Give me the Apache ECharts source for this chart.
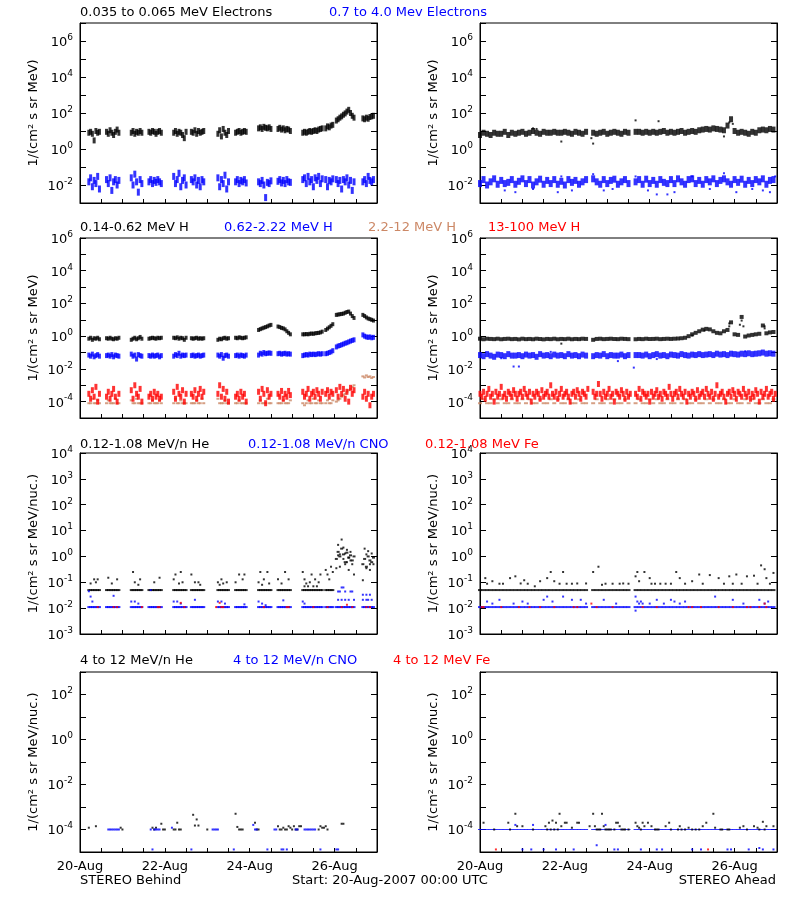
<!DOCTYPE html>
<html><head><meta charset="utf-8">
<script src="https://cdn.jsdelivr.net/npm/echarts@6/dist/echarts.min.js"></script>
<style>html,body{margin:0;padding:0;background:#fff}#c{width:800px;height:900px}</style>
</head><body><div id="c"></div>
<script>
// ---------- tick labels / categories ----------
const dayLabels = ['20-Aug','21-Aug','22-Aug','23-Aug','24-Aug','25-Aug','26-Aug','27-Aug'];
// data blocks: start hour (from 20-Aug-2007 00:00 UTC) of each telemetry block
const bhdStart = [5,15,29,39,53,63,78,88,101,112,126,139,145,160]; // STEREO Behind, hourly samples
const ahdStart = [0,64,88];                                          // STEREO Ahead blocks

// ---------- Row 1: electrons ----------
const eLoB = [[8,9,7,3,10,8,9],[9,7,11,8,6,9,12,8],[8,10,7,9,8,10,8],[9,8,10,9,7,9,10,8],[8,10,7,9,8,6,4,9],[9,8,11,7,10,8,9,10],[7,11,5,13,8,6,10],[8,9,10,8,9,10,9],[14,16,13,17,15,14,16,13],[13,15,12,14,11,13,12,10],[8,9,8,9,10,9,10,11,10,12,13,14],[14,18,16,20,22],[38,45,55,65,80,95,120,150,100,70,55],[50,45,55,48,60,65,70]];
const eHiB = [[0.015,0.025,0.008,0.018,0.012,0.03,0.006],[0.02,0.012,0.025,0.005,0.015,0.02,0.01,0.018],[0.025,0.01,0.04,0.015,0.004,0.02,0.012],[0.015,0.02,0.012,0.018,0.014,0.02,0.015,0.012],[0.03,0.012,0.02,0.045,0.008,0.018,0.025,0.01],[0.02,0.015,0.025,0.01,0.018,0.008,0.02,0.015],[0.025,0.008,0.02,0.012,0.035,0.006,0.015],[0.015,0.02,0.012,0.018,0.015,0.02,0.013],[0.015,0.012,0.018,0.01,0.002,0.014,0.012,0.017],[0.016,0.02,0.013,0.018,0.012,0.02,0.015,0.014],[0.02,0.025,0.012,0.03,0.015,0.02,0.008,0.025,0.018,0.03,0.012,0.022],[0.02,0.008,0.018,0.015,0.022],[0.02,0.012,0.018,0.006,0.02,0.015,0.025,0.01,0.018,0.005,0.015],[0.015,0.02,0.012,0.03,0.018,0.015,0.02]];
// Ahead: 2-hour samples
const eLoA = [[6,8,7,6,8,7,7,9,6,8,7,8,9,7,8,10,8,7,9,8,8,9,8,8,9,8,7,9,8,7,9],[8,7,8,9,7,8,9,8,7,9,8],[9,9,8,9,8,9,8,9,10,8,9,8,9,10,8,9,10,9,11,12,13,12,14,13,12,11,20,45,10,8,9,8,7,9,8,11,12,11,13,12]];
const eLoAx = [[30,14],[32,13],[46,2.6],[63,4],[64,2],[88,39],[101,35],[138,5],[141,30],[143,25]];
const eHiA = [[0.012,0.02,0.01,0.015,0.022,0.011,0.018,0.012,0.014,0.02,0.011,0.016,0.022,0.012,0.02,0.01,0.015,0.021,0.011,0.018,0.012,0.02,0.011,0.016,0.01,0.02,0.014,0.018,0.011,0.015,0.02],[0.022,0.015,0.011,0.02,0.012,0.018,0.021,0.011,0.015,0.02,0.012],[0.015,0.02,0.011,0.021,0.012,0.018,0.011,0.02,0.014,0.012,0.02,0.012,0.022,0.015,0.011,0.02,0.022,0.012,0.018,0.011,0.02,0.015,0.022,0.012,0.018,0.022,0.015,0.011,0.02,0.014,0.021,0.011,0.018,0.012,0.02,0.015,0.022,0.011,0.018,0.02]];
const eHiAx = [[14,0.005],[20,0.004],[30,0.006],[44,0.004],[46,0.03],[52,0.005],[64,0.04],[70,0.005],[75,0.006],[88,0.03],[95,0.005],[100,0.003],[106,0.003],[110,0.004],[120,0.03],[130,0.006],[138,0.045],[145,0.004],[154,0.006],[160,0.005],[164,0.004],[167,0.03]];

// ---------- Row 2: protons ----------
const pLoB = [[0.7,0.8,0.6,0.75,0.7,0.8,0.65],[0.75,0.7,0.8,0.7,0.65,0.75,0.7,0.8],[0.6,0.7,0.8,0.65,0.75,0.9,0.7],[0.7,0.75,0.8,0.75,0.7,0.8,0.75,0.8],[0.8,0.75,0.85,0.7,0.8,0.75,0.6,0.8],[0.75,0.7,0.75,0.8,0.7,0.75,0.7,0.75],[0.6,0.7,0.65,0.75,0.8,0.7,0.75],[0.8,0.75,0.85,0.8,0.75,0.8,0.85],[2.4,2.7,3.0,3.3,3.6,4.0,4.5,4.9],[3.9,3.6,3.2,3.0,2.6,2.0,1.6,1.3],[1.3,1.3,1.35,1.3,1.4,1.45,1.4,1.5,1.55,1.6,1.7,1.9],[2.4,2.9,3.5,4.3,5.4],[20,21,22,23,24,27,30,32,24,17,13],[20,17,14,12,11,10,9]];
const pHiB = [[0.07,0.06,0.08,0.055,0.065,0.075,0.06],[0.065,0.07,0.06,0.075,0.055,0.07,0.065,0.06],[0.08,0.06,0.07,0.04,0.075,0.065,0.06],[0.065,0.06,0.07,0.06,0.065,0.07,0.055,0.065],[0.06,0.075,0.065,0.09,0.06,0.07,0.065,0.07],[0.065,0.07,0.06,0.065,0.07,0.06,0.065,0.07],[0.07,0.06,0.075,0.045,0.065,0.07,0.06],[0.065,0.07,0.06,0.07,0.065,0.06,0.07],[0.07,0.09,0.08,0.1,0.085,0.09,0.095,0.09],[0.085,0.09,0.08,0.085,0.09,0.08,0.085,0.08],[0.065,0.07,0.075,0.07,0.08,0.075,0.08,0.075,0.08,0.085,0.08,0.085],[0.085,0.09,0.1,0.11,0.13],[0.22,0.25,0.27,0.3,0.33,0.37,0.4,0.45,0.5,0.55,0.6],[1.2,1.0,0.9,0.85,0.9,0.8,0.85]];
const pMidB = [[8e-5,8e-5,1.5e-4,8e-5,8e-5,1.2e-4,8e-5],[8e-5,1.2e-4,8e-5,8e-5,8e-5,1.5e-4,8e-5,8e-5],[1.2e-4,8e-5,8e-5,1.5e-4,8e-5,8e-5,8e-5],[8e-5,8e-5,1.2e-4,8e-5,8e-5,8e-5,1.2e-4,8e-5],[8e-5,1.5e-4,8e-5,8e-5,1.2e-4,8e-5,8e-5,8e-5],[8e-5,8e-5,8e-5,1.2e-4,8e-5,8e-5,1.5e-4,8e-5],[1.5e-4,8e-5,8e-5,8e-5,1.2e-4,8e-5,8e-5],[8e-5,8e-5,1.2e-4,8e-5,8e-5,8e-5,8e-5],[8e-5,1.2e-4,8e-5,8e-5,8e-5,1.5e-4,8e-5,8e-5],[8e-5,8e-5,8e-5,1.2e-4,8e-5,8e-5,8e-5,1.2e-4],[8e-5,6e-5,8e-5,1.2e-4,8e-5,8e-5,1.5e-4,8e-5,8e-5,1.2e-4,8e-5,8e-5],[8e-5,1.2e-4,8e-5,8e-5,1.2e-4],[1e-4,1.2e-4,1.5e-4,2e-4,2.5e-4,3e-4,4e-4,5e-4,6e-4,8e-4,1e-3],[3.5e-3,3e-3,4e-3,3.2e-3,3.5e-3,2.8e-3,3.2e-3]];
const pTopB = [[3e-4,1.5e-4,5e-4,2e-4,8e-4,1e-4,3e-4],[2e-4,4e-4,1.5e-4,3e-4,6e-4,2e-4,1e-4,3e-4],[5e-4,1.5e-4,1e-3,3e-4,2e-4,6e-4,1e-4],[2e-4,3e-4,1.5e-4,4e-4,2e-4,3e-4,1.5e-4,2e-4],[4e-4,1.5e-4,8e-4,3e-4,2e-4,5e-4,1e-4,3e-4],[3e-4,2e-4,5e-4,1.5e-4,3e-4,6e-4,2e-4,4e-4],[3e-4,1e-3,2e-4,6e-4,1.5e-4,4e-4,1e-4],[2e-4,3e-4,1.5e-4,4e-4,2e-4,3e-4,1e-4],[4e-4,1.5e-4,6e-4,3e-4,8e-5,5e-4,2e-4,3e-4],[3e-4,2e-4,4.5e-4,1.5e-4,3e-4,2e-4,4.5e-4,2.5e-4],[4e-4,2e-4,3e-4,6e-4,1.5e-4,3e-4,4e-4,2e-4,5e-4,3e-4,1.5e-4,4e-4],[3e-4,5e-4,2e-4,4e-4,3e-4],[5e-4,2e-4,8e-4,3e-4,6e-4,1.5e-4,4e-4,1e-4,7e-4,3e-4,5e-4],[2e-4,4e-4,1.5e-4,3e-4,6e-5,2e-4,3e-4]];
const pLoA = [[0.7,0.65,0.7,0.68,0.66,0.7,0.65,0.68,0.7,0.66,0.68,0.64,0.7,0.66,0.68,0.65,0.7,0.67,0.64,0.68,0.66,0.7,0.65,0.68,0.66,0.7,0.65,0.68,0.66,0.7,0.68],[0.6,0.68,0.7,0.66,0.68,0.7,0.67,0.66,0.7,0.68,0.66],[0.65,0.68,0.66,0.7,0.67,0.68,0.7,0.66,0.68,0.7,0.68,0.7,0.72,0.75,0.8,1.0,1.3,1.6,2.0,2.5,2.8,2.6,2.0,1.6,1.5,2.0,2.4,7,1.3,1.2,15,0.95,1.1,1.2,1.3,1.4,4.5,1.5,1.7,1.8]];
const pLoAx = [[46,0.35],[141,4],[141,6],[147,5],[148,9],[149,4],[161,3],[161,4],[120,1.1],[127,2.2]];
const pHiA = [[0.07,0.06,0.08,0.065,0.055,0.075,0.07,0.06,0.08,0.065,0.065,0.07,0.06,0.075,0.065,0.07,0.055,0.08,0.065,0.07,0.06,0.075,0.065,0.07,0.06,0.08,0.065,0.07,0.06,0.075,0.065],[0.06,0.07,0.065,0.08,0.06,0.07,0.065,0.065,0.075,0.06,0.07],[0.07,0.07,0.065,0.075,0.06,0.07,0.08,0.065,0.07,0.06,0.075,0.07,0.065,0.08,0.07,0.065,0.075,0.07,0.08,0.07,0.075,0.08,0.07,0.085,0.075,0.08,0.07,0.085,0.08,0.075,0.085,0.08,0.09,0.08,0.085,0.09,0.1,0.085,0.09,0.085]];
const pHiAx = [[19,0.014],[22,0.014],[78,0.03],[87,0.012],[12,0.045],[40,0.11],[100,0.04],[150,0.12]];
const pMidA = [[8e-5,1.4e-4,8e-5,8e-5,1.4e-4,8e-5,1.4e-4,8e-5,8e-5,1.4e-4,8e-5,8e-5,1.4e-4,8e-5,1.4e-4,8e-5,8e-5,1.4e-4,8e-5,8e-5,1.4e-4,8e-5,1.4e-4,8e-5,8e-5,1.4e-4,8e-5,8e-5,1.4e-4,8e-5,8e-5],[8e-5,1.4e-4,8e-5,8e-5,1.4e-4,8e-5,1.4e-4,8e-5,8e-5,1.4e-4,8e-5],[8e-5,1.4e-4,8e-5,8e-5,1.4e-4,8e-5,1.4e-4,8e-5,8e-5,1.4e-4,8e-5,8e-5,1.4e-4,8e-5,1.4e-4,8e-5,8e-5,1.4e-4,8e-5,8e-5,1.4e-4,8e-5,1.4e-4,8e-5,8e-5,1.4e-4,8e-5,8e-5,1.4e-4,8e-5,8e-5,1.4e-4,8e-5,1.4e-4,8e-5,8e-5,1.4e-4,8e-5,8e-5,1.4e-4]];
// Ahead 13-100 MeV H: hourly samples
const pTopA = [[3e-4,2e-4,4e-4,1.5e-4,3e-4,6e-4,2e-4,3e-4,1e-4,4e-4,2e-4,3e-4,8e-4,2e-4,3e-4,1.5e-4,4e-4,3e-4,2e-4,5e-4,3e-4,1.5e-4,3e-4,4e-4,2e-4,6e-4,3e-4,2e-4,4e-4,1e-4,3e-4,2e-4,4e-4,3e-4,1.5e-4,5e-4,2e-4,3e-4,4e-4,2e-4,1e-3,3e-4,2e-4,4e-4,1.5e-4,3e-4,6e-4,2e-4,3e-4,4e-4,2e-4,1e-4,3e-4,4e-4,2e-4,5e-4,3e-4,1.5e-4,4e-4,3e-4,2e-4,6e-4],[4e-4,2e-4,3e-4,1.2e-3,3e-4,1.5e-4,4e-4,2e-4,3e-4,6e-4,2e-4,3e-4,1e-4,4e-4,3e-4,2e-4,5e-4,3e-4,1.5e-4,4e-4,2e-4,3e-4],[3e-4,2e-4,6e-4,1.5e-4,4e-4,3e-4,2e-4,3e-4,1e-4,4e-4,2e-4,3e-4,5e-4,2e-4,3e-4,1.5e-4,4e-4,3e-4,2e-4,8e-4,3e-4,1.5e-4,3e-4,4e-4,2e-4,6e-4,3e-4,2e-4,4e-4,1e-4,3e-4,2e-4,4e-4,3e-4,1.5e-4,5e-4,2e-4,3e-4,4e-4,2e-4,6e-4,3e-4,2e-4,4e-4,1.5e-4,3e-4,1e-3,2e-4,3e-4,4e-4,2e-4,1e-4,3e-4,4e-4,2e-4,5e-4,3e-4,1.5e-4,4e-4,3e-4,2e-4,6e-4,3e-4,2e-4,4e-4,1.5e-4,3e-4,2e-4,5e-4,3e-4,1e-4,4e-4,2e-4,3e-4,6e-4,2e-4,3e-4,4e-4,1.5e-4,3e-4]];

// ---------- Row 3: 0.12-1.08 MeV/n heavy ions ----------
const heB = [[.05,.05,.05,.05,.05,.05,.05],[.05,.05,.05,.05,.05,.05,.05,.05],[.05,.05,.05,.05,.05,.05,.05],[.05,.05,.05,.05,.05,.05,.05,.05],[.05,.05,.05,.05,.05,.05,.05,.05],[.05,.05,.05,.05,.05,.05,.05,.05],[.05,.05,.05,.05,.05,.05,.05],[.05,.05,.05,.05,.05,.05,.05],[.05,.05,.05,.05,.05,.05,.05,.05],[.05,.05,.05,.05,.05,.05,.05,.05],[.05,.05,.05,.05,.05,.05,.05,.05,.05,.05,.05,.05],[.05,.05,.05,.05,.05],[0.8,1.5,1.0,2.0,1.2,0.6,1.4,0.9,1.1,0.7,1.0],[0.5,0.8,0.4,1.0,0.7,0.6,0.9]];
const heBx = [[6,0.09],[8,0.13],[9,0.1],[10,0.13],[16,0.15],[18,0.09],[21,0.13],[30,0.25],[31,0.1],[33,0.08],[34,0.13],[42,0.1],[45,0.15],[53,0.13],[54,0.2],[56,0.09],[57,0.25],[58,0.1],[63,0.2],[65,0.1],[67,0.1],[68,0.08],[78,0.1],[79,0.08],[80,0.13],[81,0.09],[83,0.1],[88,0.1],[90,0.2],[92,0.13],[93,0.2],[101,0.1],[102,0.25],[103,0.08],[104,0.13],[106,0.25],[107,0.09],[112,0.13],[114,0.09],[116,0.25],[118,0.13],[126,0.25],[127,0.13],[128,0.09],[130,0.1],[131,0.2],[133,0.13],[135,0.1],[136,0.2],[127,0.07],[129,0.07],[132,0.07],[134,0.07],[139,0.3],[140,0.2],[141,0.13],[142,0.4],[143,0.25],[145,0.35],[146,2.8],[147,0.4],[148,4.5],[149,2.2],[150,0.5],[151,1.8],[152,0.3],[153,1.5],[154,0.5],[155,0.2],[147,1.2],[149,0.8],[151,0.6],[153,0.7],[146,1.1],[150,1.3],[152,0.9],[160,0.12],[161,2],[162,0.35],[163,1.6],[164,0.3],[165,1.3],[166,0.5],[162,1.2],[164,0.5]];
const cnoB = [[.011,.011,.011,.011,.011,.011,.011],[.011,.011,.011,.011,.011,.011,.011,.011],[.011,.011,.011,.011,.011,.011,.011],[.011,.011,.011,.011,.011,.011,.011,.011],[.011,.011,.011,.011,.011,.011,.011,.011],[.011,.011,.011,.011,.011,.011,.011,.011],[.011,.011,.011,.011,.011,.011,.011],[.011,.011,.011,.011,.011,.011,.011],[.011,.011,.011,.011,.011,.011,.011,.011],[.011,.011,.011,.011,.011,.011,.011,.011],[.011,.011,.011,.011,.011,.011,.011,.011,.011,.011,.011,.011],[.011,.011,.011,.011,.011],[.011,.011,.011,.011,.011,.011,.011,.011,.011,.011,.011],[.011,.011,.011,.011,.011,.011,.011]];
const cnoBx = [[5,0.045],[6,0.028],[7,0.018],[19,0.03],[29,0.018],[31,0.018],[33,0.015],[40,0.05],[53,0.018],[55,0.018],[57,0.015],[65,0.021],[78,0.018],[80,0.018],[82,0.015],[93,0.014],[101,0.018],[103,0.015],[105,0.013],[115,0.02],[126,0.018],[127,0.015],[146,0.044],[147,0.044],[148,0.063],[149,0.063],[150,0.044],[153,0.044],[154,0.044],[146,0.021],[148,0.021],[150,0.021],[152,0.021],[155,0.021],[160,0.033],[162,0.033],[164,0.033],[160,0.021],[162,0.021],[163,0.021],[165,0.021]];
const feB = [[10,0.011],[19,0.011],[21,0.011],[35,0.011],[44,0.011],[45,0.011],[57,0.016],[59,0.011],[77,0.011],[79,0.016],[80,0.011],[81,0.011],[104,0.011],[117,0.011],[118,0.011],[132,0.011],[140,0.011],[148,0.011],[151,0.0135],[154,0.011],[162,0.011],[164,0.011]];
const heA = [[.05,.05,.05,.05,.05,.05,.05,.05,.05,.05,.05,.05,.05,.05,.05,.05,.05,.05,.05,.05,.05,.05,.05,.05,.05,.05,.05,.05,.05,.05,.05],[.05,.05,.05,.05,.05,.05,.05,.05,.05,.05,.05],[.05,.05,.05,.05,.05,.05,.05,.05,.05,.05,.05,.05,.05,.05,.05,.05,.05,.05,.05,.05,.05,.05,.05,.05,.05,.05,.05,.05,.05,.05,.05,.05,.05,.05,.05,.05,.05,.05,.05,.05]];
const heAx = [[3,0.145],[4,0.088],[7,0.11],[11,0.088],[13,0.088],[17,0.145],[20,0.17],[23,0.09],[25,0.12],[27,0.088],[31,0.07],[34,0.11],[38,0.145],[40,0.25],[42,0.11],[45,0.088],[47,0.25],[49,0.088],[52,0.088],[55,0.09],[60,0.09],[64,0.25],[67,0.4],[69,0.08],[71,0.088],[75,0.088],[79,0.088],[81,0.09],[84,0.088],[88,0.17],[89,0.25],[90,0.11],[93,0.25],[96,0.145],[97,0.088],[99,0.088],[102,0.088],[105,0.088],[108,0.088],[111,0.25],[113,0.145],[116,0.088],[120,0.11],[124,0.2],[126,0.088],[130,0.19],[135,0.145],[138,0.088],[141,0.17],[143,0.088],[145,0.2],[148,0.088],[151,0.17],[155,0.18],[157,0.088],[159,0.45],[161,0.32],[162,0.145],[164,0.088],[166,0.23]];
const cnoA = [[.011,.011,.011,.011,.011,.011,.011,.011,.011,.011,.011,.011,.011,.011,.011,.011,.011,.011,.011,.011,.011,.011,.011,.011,.011,.011,.011,.011,.011,.011,.011],[.011,.011,.011,.011,.011,.011,.011,.011,.011,.011,.011],[.011,.011,.011,.011,.011,.011,.011,.011,.011,.011,.011,.011,.011,.011,.011,.011,.011,.011,.011,.011,.011,.011,.011,.011,.011,.011,.011,.011,.011,.011,.011,.011,.011,.011,.011,.011,.011,.011,.011,.011]];
const cnoAx = [[4,0.018],[7,0.015],[11,0.021],[19,0.015],[24,0.018],[27,0.015],[36,0.021],[38,0.028],[41,0.018],[47,0.028],[52,0.021],[57,0.021],[60,0.015],[70,0.021],[77,0.015],[88,0.028],[88,0.008],[89,0.018],[90,0.015],[91,0.018],[92,0.015],[96,0.015],[100,0.021],[104,0.015],[108,0.021],[110,0.018],[113,0.015],[116,0.018],[133,0.028],[143,0.021],[149,0.015],[158,0.021],[161,0.015],[163,0.018]];
const feA = [[1,0.011],[2,0.011],[12,0.011],[22,0.011],[28,0.011],[34,0.011],[42,0.011],[53,0.011],[55,0.011],[63,0.015],[66,0.011],[75,0.011],[92,0.011],[100,0.011],[118,0.011],[120,0.011],[125,0.011],[135,0.011],[143,0.011],[151,0.011],[153,0.011],[158,0.011],[161,0.015],[162,0.011]];

// ---------- Row 4: 4-12 MeV/n heavy ions ----------
const he4B = [[5,1.2e-4],[9,1.4e-4],[23,1.2e-4],[24,1e-4],[41,1.2e-4],[42,1e-4],[43,1.2e-4],[46,1.8e-4],[47,1e-4],[48,1e-4],[53,1e-4],[54,1e-4],[55,2e-4],[56,1e-4],[57,1e-4],[64,4.5e-4],[65,1.5e-4],[66,2.8e-4],[67,1.5e-4],[72,1e-4],[88,5e-4],[89,1.3e-4],[90,1e-4],[91,1e-4],[92,1e-4],[99,2e-4],[100,1e-4],[101,1e-4],[112,1.4e-4],[113,1e-4],[114,1e-4],[115,1.2e-4],[116,1e-4],[117,1e-4],[118,1.4e-4],[119,1.2e-4],[120,1e-4],[121,1.4e-4],[122,1e-4],[123,1e-4],[124,1.4e-4],[125,1.4e-4],[135,1e-4],[136,1.4e-4],[137,1.2e-4],[138,1.2e-4],[139,1.4e-4],[140,1e-4],[148,1.8e-4],[149,1.8e-4]];
const cno4B = [[16,1e-4],[17,1e-4],[18,1e-4],[19,1e-4],[20,1e-4],[21,1e-4],[22,1e-4],[40,1e-4],[41,1.3e-5],[42,1e-4],[43,1e-4],[44,1e-4],[45,1e-4],[52,1.2e-4],[63,1.3e-5],[75,1e-4],[76,1e-4],[77,1e-4],[78,1e-4],[87,1.3e-5],[98,1.6e-4],[99,1e-4],[100,1e-4],[106,1.3e-5],[110,1e-4],[111,1e-4],[114,1.3e-5],[115,1.3e-5],[117,1.3e-5],[122,1e-4],[123,1e-4],[127,1e-4],[128,1e-4],[129,1e-4],[130,1e-4],[131,1e-4],[132,1e-4],[133,1e-4],[136,1.3e-5],[145,1.3e-5],[146,1.3e-5]];
const fe4B = [];
const cno4A = [[1e-4,1e-4,1e-4,1e-4,1e-4,1e-4,1e-4,1e-4,1e-4,1e-4,1e-4,1e-4,1e-4,1e-4,1e-4,1e-4,1e-4,1e-4,1e-4,1e-4,1e-4,1e-4,1e-4,1e-4,1e-4,1e-4,1e-4,1e-4,1e-4,1e-4,1e-4],[1e-4,1e-4,1e-4,1e-4,1e-4,1e-4,1e-4,1e-4,1e-4,1e-4,1e-4],[1e-4,1e-4,1e-4,1e-4,1e-4,1e-4,1e-4,1e-4,1e-4,1e-4,1e-4,1e-4,1e-4,1e-4,1e-4,1e-4,1e-4,1e-4,1e-4,1e-4,1e-4,1e-4,1e-4,1e-4,1e-4,1e-4,1e-4,1e-4,1e-4,1e-4,1e-4,1e-4,1e-4,1e-4,1e-4,1e-4,1e-4,1e-4,1e-4,1e-4]];
const cno4Ax = [[20,1.6e-4],[24,1.3e-5],[29,1.3e-5],[30,1.6e-4],[36,1.3e-5],[43,1.3e-5],[53,1.3e-5],[66,2e-5],[71,1.6e-4],[76,1.3e-5],[78,1.3e-5],[91,1.3e-5],[100,1.3e-5],[103,1.3e-5],[120,1.3e-5],[125,1.3e-5],[140,1.3e-5],[142,1.3e-5],[152,1.3e-5],[158,1.5e-5],[160,1.3e-5],[166,1.3e-5]];
const he4A = [[2,2e-4],[8,1e-4],[16,2e-4],[17,1e-4],[20,5e-4],[21,1.4e-4],[24,1.4e-4],[30,1e-4],[37,1.4e-4],[38,1e-4],[39,2e-4],[40,1e-4],[41,2.5e-4],[42,1e-4],[43,2e-4],[44,1e-4],[45,5e-4],[46,1.4e-4],[48,2e-4],[49,2e-4],[52,1.2e-4],[55,2e-4],[56,2e-4],[62,1.4e-4],[64,5e-4],[65,1.4e-4],[66,1e-4],[67,1e-4],[68,1e-4],[69,5e-4],[70,1.4e-4],[71,1e-4],[72,1e-4],[73,1e-4],[74,1e-4],[76,1e-4],[77,2e-4],[78,2e-4],[79,1.4e-4],[80,1e-4],[81,1e-4],[82,1e-4],[84,1e-4],[88,2e-4],[89,1.4e-4],[90,1.2e-4],[91,1e-4],[92,2e-4],[93,1.4e-4],[95,2e-4],[97,1.4e-4],[99,1e-4],[100,1e-4],[101,1e-4],[105,1.4e-4],[107,2e-4],[108,1e-4],[112,1e-4],[113,1.4e-4],[114,1e-4],[116,1e-4],[118,1.2e-4],[120,1e-4],[122,1e-4],[124,1e-4],[126,1.4e-4],[128,2e-4],[132,5e-4],[133,1.2e-4],[136,1e-4],[137,1e-4],[140,1e-4],[141,1e-4],[147,1.2e-4],[149,1.4e-4],[151,1e-4],[155,1.4e-4],[157,1.2e-4],[158,1e-4],[160,2.2e-4],[161,1e-4],[162,1.4e-4],[166,1.4e-4]];
const fe4A = [[9,1.3e-5],[129,1.3e-5]];

// ---------- text ----------
const yNames = ['1/(cm² s sr MeV)','1/(cm² s sr MeV)','1/(cm² s sr MeV/nuc.)','1/(cm² s sr MeV/nuc.)'];
const yMin = [1e-3,1e-5,1e-3,1e-5];
const yMax = [1e7,1e6,1e4,1e3];
const titles = [
  ['0.035 to 0.065 MeV Electrons','k',80,13],['0.7 to 4.0 Mev Electrons','b',329,13],
  ['0.14-0.62 MeV H','k',80,228],['0.62-2.22 MeV H','b',224,228],['2.2-12 MeV H','t',368,228],['13-100 MeV H','r',488,228],
  ['0.12-1.08 MeV/n He','k',80,445],['0.12-1.08 MeV/n CNO','b',248,445],['0.12-1.08 MeV Fe','r',425,445],
  ['4 to 12 MeV/n He','k',80,661],['4 to 12 MeV/n CNO','b',233,661],['4 to 12 MeV Fe','r',393,661],
  ['STEREO Behind','k',80,881],['Start: 20-Aug-2007 00:00 UTC','k',292,881]
];
const footRight = 'STEREO Ahead';

// ---------- build ----------
const FONT = 'DejaVu Sans';
const COL = {k:'#000000', b:'#0000ff', t:'#cc8866', r:'#ff0000'};
function chunked(starts, chunks, step){
  const out=[];
  chunks.forEach((c,i)=>c.forEach((v,j)=>{ if(v!=null) out.push([starts[i]+j*step, v]); }));
  return out;
}
const grids=[], xAxes=[], yAxes=[], series=[];
const gTop=[23,238,453,672], gH=[180,180,181,180], gLeft=[80,480], gW=297;
for(let r=0;r<4;r++){
  for(let c=0;c<2;c++){
    const g=r*2+c;
    grids.push({left:gLeft[c], top:gTop[r], width:gW, height:gH[r], show:true, borderColor:'#000', borderWidth:1, backgroundColor:'transparent', containLabel:false});
    xAxes.push({type:'value', gridIndex:g, min:0, max:168, interval:12,
      axisLine:{show:true, lineStyle:{color:'#000',width:1}},
      axisTick:{show:true, inside:true, length:4, lineStyle:{color:'#000'}},
      axisLabel:{show:r===3, interval:0, margin:8, color:'#000', fontFamily:FONT, fontSize:13,
        formatter:v=> (v%48===0 ? dayLabels[v/24] : '')},
      splitLine:{show:false}});
    const even = r!==2;
    const fmt = v=>{ const e=Math.round(Math.log10(v)); if(even && e%2!==0) return ''; return '{b|10}{s|'+e+'}'; };
    yAxes[g] = {type:'log', logBase:10, gridIndex:g, min:yMin[r], max:yMax[r], interval:1, position:'left',
      name:yNames[r], nameLocation:'middle', nameGap:40, nameTextStyle:{fontFamily:FONT, fontSize:13, color:'#000'},
      axisLine:{show:true, lineStyle:{color:'#000'}},
      axisTick:{show:true, inside:true, length:6, lineStyle:{color:'#000'}},
      axisLabel:{show:true, margin:7, formatter:fmt, rich:{
        b:{fontFamily:FONT, fontSize:13, color:'#000', lineHeight:16, verticalAlign:'bottom'},
        s:{fontFamily:FONT, fontSize:9, color:'#000', lineHeight:16, verticalAlign:'top'}}},
      splitLine:{show:false}, minorTick:{show:false}};
    yAxes[g+8] = {type:'log', logBase:10, gridIndex:g, min:yMin[r], max:yMax[r], interval:1, position:'right',
      axisLine:{show:true, lineStyle:{color:'#000'}},
      axisTick:{show:true, inside:true, length:6, lineStyle:{color:'#000'}},
      axisLabel:{show:false}, splitLine:{show:false}};
  }
}
function sc(g, data, col, size){
  series.push({type:'scatter', xAxisIndex:g, yAxisIndex:g, data:data, symbol:'rect', symbolSize:size,
    itemStyle:{color:COL[col]}, silent:true, animation:false});
}
// row 1
sc(0, chunked(bhdStart,eLoB,1),'k',[3,6]);
sc(0, chunked(bhdStart,eHiB,1),'b',[3,7]);
sc(1, chunked(ahdStart,eLoA,2),'k',[4,6]);
sc(1, eLoAx,'k',[2,2]);
sc(1, chunked(ahdStart,eHiA,2),'b',[4,7]);
sc(1, eHiAx,'b',[2,2]);
// row 2
sc(2, chunked(bhdStart,pLoB,1),'k',[3,4]);
sc(2, chunked(bhdStart,pHiB,1),'b',[3,5]);
sc(2, chunked(bhdStart,pMidB,1),'t',[3,2]);
sc(2, chunked(bhdStart,pTopB,1),'r',[3,6]);
sc(3, chunked(ahdStart,pLoA,2),'k',[4,4]);
sc(3, pLoAx,'k',[2,2]);
sc(3, chunked(ahdStart,pHiA,2),'b',[4,6]);
sc(3, pHiAx,'b',[2,2]);
sc(3, chunked(ahdStart,pMidA,2),'t',[4,2]);
sc(3, chunked(ahdStart,pTopA,1),'r',[3,6]);
// row 3
sc(4, chunked(bhdStart,heB,1),'k',[3,2]);
sc(4, heBx,'k',[2,2]);
sc(4, chunked(bhdStart,cnoB,1),'b',[3,2]);
sc(4, cnoBx,'b',[2,2]);
sc(4, feB,'r',[2,2]);
sc(5, chunked(ahdStart,heA,2),'k',[4,2]);
sc(5, heAx,'k',[2,2]);
sc(5, chunked(ahdStart,cnoA,2),'b',[4,2]);
sc(5, cnoAx,'b',[2,2]);
sc(5, feA,'r',[2,2]);
// row 4
sc(6, he4B,'k',[2,2]);
sc(6, cno4B,'b',[2,2]);
sc(6, fe4B,'r',[2,2]);
sc(7, chunked(ahdStart,cno4A,2),'b',[4,1]);
sc(7, he4A,'k',[2,2]);
sc(7, cno4Ax,'b',[2,2]);
sc(7, fe4A,'r',[2,2]);

const gElems = titles.map(t=>({type:'text', x:t[2], y:t[3], silent:true,
  style:{text:t[0], fill:COL[t[1]], font:'13px "'+FONT+'"', align:'left', verticalAlign:'middle'}}));
gElems.push({type:'text', x:776, y:881, silent:true, style:{text:footRight, fill:'#000', font:'13px "'+FONT+'"', align:'right', verticalAlign:'middle'}});

const chart = echarts.init(document.getElementById('c'), null, {renderer:'canvas'});
chart.setOption({
  animation:false, backgroundColor:'#ffffff',
  grid:grids, xAxis:xAxes, yAxis:yAxes, series:series,
  graphic:{elements:gElems}
});
</script>
</body></html>
